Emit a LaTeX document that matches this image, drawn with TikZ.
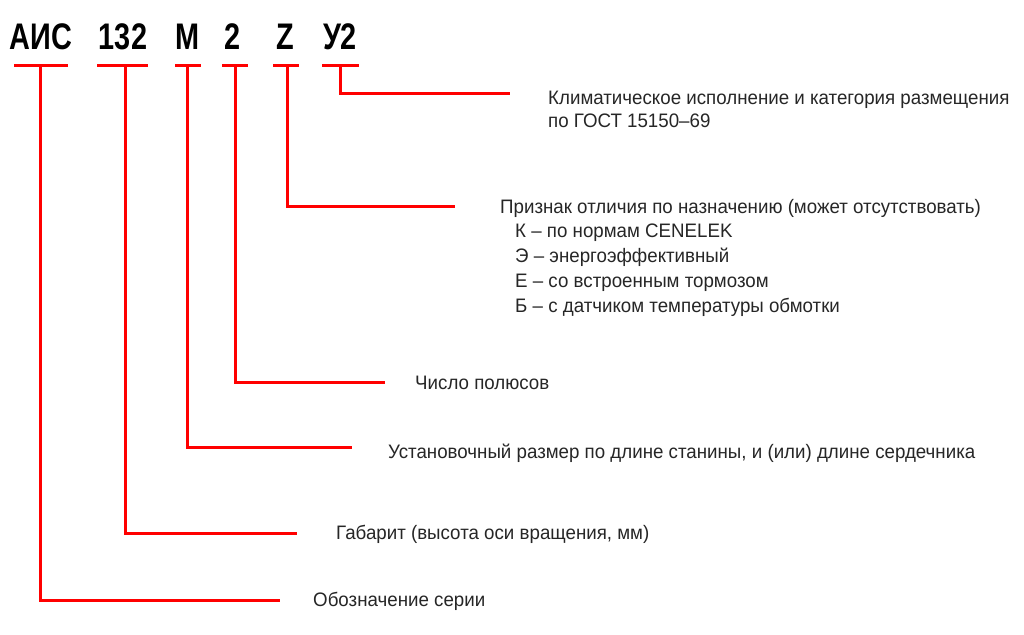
\documentclass[tikz,border=0pt]{standalone}
\usepackage{fontspec}
\setmainfont{Liberation Sans}[FakeStretch=0.96]
\newfontfamily\codefont{Liberation Sans}[FakeStretch=0.78]
\begin{document}
\begin{tikzpicture}[x=1pt,y=-1pt,
  lead/.style={draw=red,line width=3pt},
  code/.style={font=\codefont\fontsize{37}{40}\selectfont\bfseries,anchor=base,inner sep=0},
  lbl/.style={font=\fontsize{19.5}{22}\selectfont,anchor=base west,inner sep=0,text=black!85}]
\useasboundingbox (0,0) rectangle (1024,634);
\node[code] (c1) at (41,49) {АИС};
\node[code] (c2) at (123,49) {132};
\node[code] (c3) at (188,49) {М};
\node[code] (c4) at (233,49) {2};
\node[code] (c5) at (285,49) {Z};
\node[code] (c6) at (340,49) {У2};
\node[lbl] (t6) at (548,104) {Климатическое исполнение и категория размещения};
\node[lbl] (t6b) at (548,127) {по ГОСТ 15150--69};
\node[lbl] (t5) at (500,213) {Признак отличия по назначению (может отсутствовать)};
\node[lbl] (t5a) at (515,237) {К -- по нормам CENELEK};
\node[lbl] (t5b) at (515,262) {Э -- энергоэффективный};
\node[lbl] (t5c) at (515,287) {Е -- со встроенным тормозом};
\node[lbl] (t5d) at (515,312) {Б -- с датчиком температуры обмотки};
\node[lbl] (t4) at (415,389) {Число полюсов};
\node[lbl] (t3) at (388,458) {Установочный размер по длине станины, и (или) длине сердечника};
\node[lbl] (t2) at (336,539) {Габарит (высота оси вращения, мм)};
\node[lbl] (t1) at (313,606) {Обозначение серии};
\coordinate (e1) at (280,600); \coordinate (e2) at (297,533);
\coordinate (e3) at (352,447); \coordinate (e4) at (385,382);
\coordinate (e5) at (455,206); \coordinate (e6) at (510,93);
\draw[lead] (14,65) -- (68,65); \draw[lead] (40,65) |- (e1);
\draw[lead] (97,65) -- (148,65); \draw[lead] (125,65) |- (e2);
\draw[lead] (175,65) -- (201,65); \draw[lead] (187,65) |- (e3);
\draw[lead] (222,65) -- (248,65); \draw[lead] (235,65) |- (e4);
\draw[lead] (273,65) -- (299,65); \draw[lead] (287,65) |- (e5);
\draw[lead] (322,65) -- (359,65); \draw[lead] (340,65) |- (e6);
\end{tikzpicture}
\end{document}
